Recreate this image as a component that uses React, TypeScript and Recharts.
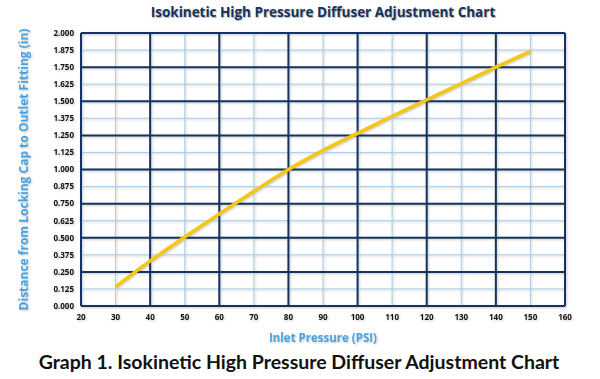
import React from "react";
import {
  LineChart,
  Line,
  XAxis,
  YAxis,
  ReferenceLine,
  Label,
} from "recharts";

// Inlet pressure (PSI) vs distance from locking cap to outlet fitting (in)
const PRESSURES = [30, 40, 50, 60, 70, 80, 90, 100, 110, 120, 130, 140, 150];
const DISTANCES = [0.14, 0.33, 0.505, 0.675, 0.84, 1.0, 1.14, 1.265, 1.39, 1.51, 1.63, 1.75, 1.865];

const X_TICKS = [20, 30, 40, 50, 60, 70, 80, 90, 100, 110, 120, 130, 140, 150, 160];
const Y_TICKS = [0, 0.125, 0.25, 0.375, 0.5, 0.625, 0.75, 0.875, 1, 1.125, 1.25, 1.375, 1.5, 1.625, 1.75, 1.875, 2];

const X_MAJOR = [20, 40, 60, 80, 100, 120, 140, 160];
const X_MINOR = [30, 50, 70, 90, 110, 130, 150];
const Y_MAJOR = [0, 0.25, 0.5, 0.75, 1, 1.25, 1.5, 1.75, 2];
const Y_MINOR = [0.125, 0.375, 0.625, 0.875, 1.125, 1.375, 1.625, 1.875];

const data = PRESSURES.map((p, i) => ({ pressure: p, distance: DISTANCES[i] }));

const NAVY = "#14345f";
const LIGHT = "#a9cde9";
const LABEL_BLUE = "#4aa2e0";
const FONT = "'Open Sans', 'Noto Sans', sans-serif";

const tickStyle = { fontSize: 8, fontWeight: 700, fill: "#111", fontFamily: FONT };

export default function App() {
  return (
    <div style={{ position: "absolute", left: 0, top: 0, width: 600, height: 379, background: "#fff" }}>
      <div
        style={{
          position: "absolute",
          left: 0,
          top: 3,
          width: 646,
          textAlign: "center",
          fontFamily: FONT,
          fontWeight: 700,
          fontSize: 13.5,
          color: NAVY,
          textShadow: "1px 1px 1px rgba(0,0,0,0.3)",
        }}
      >
        Isokinetic High Pressure Diffuser Adjustment Chart
      </div>
      <div style={{ position: "absolute", left: 0, top: 0, filter: "drop-shadow(1.5px 1.5px 1px rgba(0,0,0,0.22))" }}>
        <LineChart
          width={600}
          height={379}
          data={data}
          margin={{ top: 33, right: 35, left: 31, bottom: 43 }}
        >
          {X_MINOR.map((x) => (
            <ReferenceLine key={"xm" + x} x={x} stroke={LIGHT} strokeWidth={1} />
          ))}
          {Y_MINOR.map((y) => (
            <ReferenceLine key={"ym" + y} y={y} stroke={LIGHT} strokeWidth={1} />
          ))}
          {X_MAJOR.map((x) => (
            <ReferenceLine key={"xM" + x} x={x} stroke={NAVY} strokeWidth={2} />
          ))}
          {Y_MAJOR.map((y) => (
            <ReferenceLine key={"yM" + y} y={y} stroke={NAVY} strokeWidth={2} />
          ))}
          <XAxis
            dataKey="pressure"
            type="number"
            domain={[20, 160]}
            ticks={X_TICKS}
            axisLine={false}
            tickLine={false}
            tickSize={6}
            tickMargin={2}
            height={30}
            tick={tickStyle}
            interval={0}
          >
            <Label
              value="Inlet Pressure (PSI)"
              position="insideBottom"
              offset={-6}
              style={{ fontSize: 11.5, fontWeight: 700, fill: LABEL_BLUE, fontFamily: FONT }}
            />
          </XAxis>
          <YAxis
            type="number"
            domain={[0, 2]}
            ticks={Y_TICKS}
            axisLine={false}
            tickLine={false}
            tickSize={5}
            tickMargin={2}
            width={50}
            interval={0}
            tick={tickStyle}
            tickFormatter={(v: number) => v.toFixed(3)}
          >
            <Label
              value="Distance from Locking Cap to Outlet Fitting (in)"
              angle={-90}
              position="insideLeft"
              offset={-7}
              style={{ textAnchor: "middle", fontSize: 12, fontWeight: 700, fill: LABEL_BLUE, fontFamily: FONT }}
            />
          </YAxis>
          <Line
            type="monotone"
            dataKey="distance"
            stroke="#f4c713"
            strokeWidth={3.5}
            dot={false}
            isAnimationActive={false}
          />
        </LineChart>
      </div>
      <div
        style={{
          position: "absolute",
          left: 0,
          top: 350,
          width: 598,
          textAlign: "center",
          fontFamily: "Lato, 'Open Sans', sans-serif",
          fontWeight: 700,
          fontSize: 19.5,
          color: "#111",
        }}
      >
        Graph 1. Isokinetic High Pressure Diffuser Adjustment Chart
      </div>
    </div>
  );
}
